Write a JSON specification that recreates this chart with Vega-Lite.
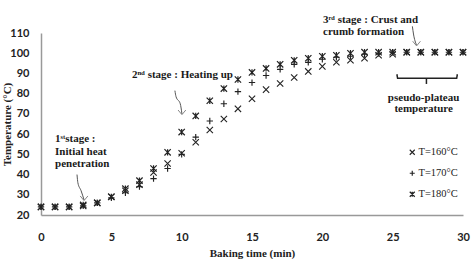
{
  "$schema": "https://vega.github.io/schema/vega-lite/v6.json",
  "width": 422,
  "height": 182,
  "autosize": "none",
  "padding": {"left": 41, "top": 33, "right": 11, "bottom": 44},
  "background": "white",
  "config": {"view": {"stroke": null}},
  "datasets": {
    "temps": [
      {"t": 0, "series": "T=160°C", "v": 24}, {"t": 0, "series": "T=170°C", "v": 24}, {"t": 0, "series": "T=180°C", "v": 24},
      {"t": 1, "series": "T=160°C", "v": 24}, {"t": 1, "series": "T=170°C", "v": 24}, {"t": 1, "series": "T=180°C", "v": 24},
      {"t": 2, "series": "T=160°C", "v": 24}, {"t": 2, "series": "T=170°C", "v": 24}, {"t": 2, "series": "T=180°C", "v": 24},
      {"t": 3, "series": "T=160°C", "v": 24.5}, {"t": 3, "series": "T=170°C", "v": 24.5}, {"t": 3, "series": "T=180°C", "v": 25},
      {"t": 4, "series": "T=160°C", "v": 26}, {"t": 4, "series": "T=170°C", "v": 26}, {"t": 4, "series": "T=180°C", "v": 26},
      {"t": 5, "series": "T=160°C", "v": 29}, {"t": 5, "series": "T=170°C", "v": 28.5}, {"t": 5, "series": "T=180°C", "v": 29},
      {"t": 6, "series": "T=160°C", "v": 32}, {"t": 6, "series": "T=170°C", "v": 31}, {"t": 6, "series": "T=180°C", "v": 33},
      {"t": 7, "series": "T=160°C", "v": 35}, {"t": 7, "series": "T=170°C", "v": 34}, {"t": 7, "series": "T=180°C", "v": 37},
      {"t": 8, "series": "T=160°C", "v": 41}, {"t": 8, "series": "T=170°C", "v": 38}, {"t": 8, "series": "T=180°C", "v": 43},
      {"t": 9, "series": "T=160°C", "v": 45.5}, {"t": 9, "series": "T=170°C", "v": 43}, {"t": 9, "series": "T=180°C", "v": 51},
      {"t": 10, "series": "T=160°C", "v": 50.5}, {"t": 10, "series": "T=170°C", "v": 50}, {"t": 10, "series": "T=180°C", "v": 61},
      {"t": 11, "series": "T=160°C", "v": 56}, {"t": 11, "series": "T=170°C", "v": 58.5}, {"t": 11, "series": "T=180°C", "v": 69},
      {"t": 12, "series": "T=160°C", "v": 62}, {"t": 12, "series": "T=170°C", "v": 66.5}, {"t": 12, "series": "T=180°C", "v": 76.5},
      {"t": 13, "series": "T=160°C", "v": 67.5}, {"t": 13, "series": "T=170°C", "v": 75}, {"t": 13, "series": "T=180°C", "v": 82.5},
      {"t": 14, "series": "T=160°C", "v": 72.5}, {"t": 14, "series": "T=170°C", "v": 81}, {"t": 14, "series": "T=180°C", "v": 87},
      {"t": 15, "series": "T=160°C", "v": 77.5}, {"t": 15, "series": "T=170°C", "v": 85.5}, {"t": 15, "series": "T=180°C", "v": 90.5},
      {"t": 16, "series": "T=160°C", "v": 82}, {"t": 16, "series": "T=170°C", "v": 89}, {"t": 16, "series": "T=180°C", "v": 92.5},
      {"t": 17, "series": "T=160°C", "v": 85}, {"t": 17, "series": "T=170°C", "v": 92}, {"t": 17, "series": "T=180°C", "v": 94.5},
      {"t": 18, "series": "T=160°C", "v": 88}, {"t": 18, "series": "T=170°C", "v": 94.5}, {"t": 18, "series": "T=180°C", "v": 96.5},
      {"t": 19, "series": "T=160°C", "v": 91}, {"t": 19, "series": "T=170°C", "v": 95.5}, {"t": 19, "series": "T=180°C", "v": 97.5},
      {"t": 20, "series": "T=160°C", "v": 93.5}, {"t": 20, "series": "T=170°C", "v": 97}, {"t": 20, "series": "T=180°C", "v": 98.5},
      {"t": 21, "series": "T=160°C", "v": 95.5}, {"t": 21, "series": "T=170°C", "v": 98}, {"t": 21, "series": "T=180°C", "v": 99},
      {"t": 22, "series": "T=160°C", "v": 96.5}, {"t": 22, "series": "T=170°C", "v": 98.5}, {"t": 22, "series": "T=180°C", "v": 100},
      {"t": 23, "series": "T=160°C", "v": 97.5}, {"t": 23, "series": "T=170°C", "v": 99.5}, {"t": 23, "series": "T=180°C", "v": 100.5},
      {"t": 24, "series": "T=160°C", "v": 99}, {"t": 24, "series": "T=170°C", "v": 100}, {"t": 24, "series": "T=180°C", "v": 100.5},
      {"t": 25, "series": "T=160°C", "v": 99.5}, {"t": 25, "series": "T=170°C", "v": 100.5}, {"t": 25, "series": "T=180°C", "v": 100.5},
      {"t": 26, "series": "T=160°C", "v": 100.5}, {"t": 26, "series": "T=170°C", "v": 100.5}, {"t": 26, "series": "T=180°C", "v": 100.5},
      {"t": 27, "series": "T=160°C", "v": 100.5}, {"t": 27, "series": "T=170°C", "v": 100.5}, {"t": 27, "series": "T=180°C", "v": 100.5},
      {"t": 28, "series": "T=160°C", "v": 100.5}, {"t": 28, "series": "T=170°C", "v": 100.5}, {"t": 28, "series": "T=180°C", "v": 100.5},
      {"t": 29, "series": "T=160°C", "v": 100.5}, {"t": 29, "series": "T=170°C", "v": 100.5}, {"t": 29, "series": "T=180°C", "v": 100.5},
      {"t": 30, "series": "T=160°C", "v": 100.5}, {"t": 30, "series": "T=170°C", "v": 100.5}, {"t": 30, "series": "T=180°C", "v": 100.5}
    ],
    "notesLeft": [
      {"t": 1.0, "v": 57.5, "label": "1ˢᵗstage :"},
      {"t": 1.0, "v": 51, "label": "Initial heat"},
      {"t": 1.0, "v": 45, "label": "penetration"},
      {"t": 6.47, "v": 89, "label": "2ⁿᵈ stage : Heating up"},
      {"t": 20.05, "v": 116.5, "label": "3ʳᵈ stage : Crust and"},
      {"t": 20.05, "v": 110.5, "label": "crumb formation"}
    ],
    "notesCenter": [
      {"t": 27.2, "v": 77.8, "label": "pseudo-plateau"},
      {"t": 27.2, "v": 72.5, "label": "temperature"}
    ],
    "arrows": [
      {"id": "a1", "o": 1, "t": 2.56, "v": 40},
      {"id": "a1", "o": 2, "t": 2.62, "v": 36},
      {"id": "a1", "o": 3, "t": 2.85, "v": 32},
      {"id": "a1", "o": 4, "t": 3.06, "v": 27.5},
      {"id": "a2", "o": 1, "t": 9.52, "v": 81.5},
      {"id": "a2", "o": 2, "t": 9.6, "v": 78.5},
      {"id": "a2", "o": 3, "t": 9.9, "v": 75},
      {"id": "a2", "o": 4, "t": 10.02, "v": 70},
      {"id": "a3", "o": 1, "t": 26.4, "v": 113.3},
      {"id": "a3", "o": 2, "t": 26.48, "v": 109.5},
      {"id": "a3", "o": 3, "t": 26.7, "v": 104}
    ],
    "heads": [
      {"t": 3.06, "v": 27.5},
      {"t": 10.02, "v": 70},
      {"t": 26.7, "v": 104}
    ],
    "bracket": [
      {"seg": "s1", "o": 1, "t": 25.3, "v": 89.6},
      {"seg": "s1", "o": 2, "t": 25.35, "v": 87.6},
      {"seg": "s1", "o": 3, "t": 29.55, "v": 87.6},
      {"seg": "s1", "o": 4, "t": 29.6, "v": 89.6},
      {"seg": "s2", "o": 1, "t": 27.4, "v": 87.6},
      {"seg": "s2", "o": 2, "t": 27.4, "v": 84.8}
    ]
  },
  "encoding": {
    "x": {
      "field": "t", "type": "quantitative",
      "scale": {"domain": [0, 30], "nice": false, "zero": false},
      "axis": {
        "title": "Baking time (min)", "values": [0, 5, 10, 15, 20, 25, 30],
        "grid": false, "ticks": false, "tickSize": 0,
        "domainColor": "#999", "domainWidth": 1.5,
        "labelFont": "Lato", "labelFontWeight": "bold", "labelFontSize": 11, "labelColor": "#222",
        "labelPadding": 16, "labelFlush": false, "labelOverlap": false,
        "titleFont": "Liberation Serif", "titleFontWeight": "bold", "titleFontSize": 11, "titleColor": "#222",
        "titleY": 38, "titleBaseline": "middle"
      }
    },
    "y": {
      "field": "v", "type": "quantitative",
      "scale": {"domain": [20, 110], "nice": false, "zero": false},
      "axis": {
        "title": "Temperature (°C)", "values": [20, 30, 40, 50, 60, 70, 80, 90, 100, 110],
        "grid": false, "ticks": false, "tickSize": 0,
        "domainColor": "#999", "domainWidth": 1.5,
        "labelFont": "Lato", "labelFontWeight": "bold", "labelFontSize": 11, "labelColor": "#222",
        "labelPadding": 12, "labelFlush": false, "labelOverlap": false,
        "titleFont": "Liberation Serif", "titleFontWeight": "bold", "titleFontSize": 11, "titleColor": "#222",
        "titleX": -34, "titleY": 91, "titleAlign": "center", "titleBaseline": "middle", "titleAngle": 270
      }
    }
  },
  "layer": [
    {
      "data": {"name": "bracket"},
      "mark": {"type": "line", "color": "#222", "strokeWidth": 1.5},
      "encoding": {
        "detail": {"field": "seg"},
        "order": {"field": "o"}
      }
    },
    {
      "data": {"name": "arrows"},
      "mark": {"type": "line", "color": "#555", "strokeWidth": 1, "interpolate": "monotone"},
      "encoding": {
        "detail": {"field": "id"},
        "order": {"field": "o"}
      }
    },
    {
      "data": {"name": "heads"},
      "mark": {"type": "point", "shape": "M-1,-1L0,0.2L1,-1", "size": 60, "filled": false, "color": "#555", "strokeWidth": 1},
      "encoding": {}
    },
    {
      "data": {"name": "notesLeft"},
      "mark": {"type": "text", "font": "Liberation Serif", "fontWeight": "bold", "fontSize": 11, "color": "#1a1a1a", "baseline": "middle", "align": "left"},
      "encoding": {
        "text": {"field": "label"}
      }
    },
    {
      "data": {"name": "notesCenter"},
      "mark": {"type": "text", "font": "Liberation Serif", "fontWeight": "bold", "fontSize": 11, "color": "#1a1a1a", "baseline": "middle", "align": "center"},
      "encoding": {
        "text": {"field": "label"}
      }
    },
    {
      "data": {"name": "temps"},
      "mark": {"type": "point", "filled": false, "size": 40, "opacity": 1, "color": "#222"},
      "encoding": {
        "shape": {
          "field": "series", "type": "nominal",
          "scale": {
            "domain": ["T=160°C", "T=170°C", "T=180°C"],
            "range": ["M-1,-1L1,1M1,-1L-1,1", "M0,-1L0,1M-1,0L1,0", "M-1,-1L1,1M1,-1L-1,1M0,-1L0,1"]
          },
          "legend": {
            "title": null, "orient": "none", "legendX": 366, "legendY": 114,
            "padding": 0, "rowPadding": 10, "labelOffset": 1, "symbolSize": 25,
            "symbolStrokeColor": "#222", "symbolStrokeWidth": 1.5,
            "labelFont": "Liberation Serif", "labelFontSize": 10.5, "labelColor": "#222"
          }
        },
        "strokeWidth": {
          "field": "series", "type": "nominal",
          "scale": {"domain": ["T=160°C", "T=170°C", "T=180°C"], "range": [1.1, 1.2, 1.8]},
          "legend": null
        }
      }
    }
  ]
}
